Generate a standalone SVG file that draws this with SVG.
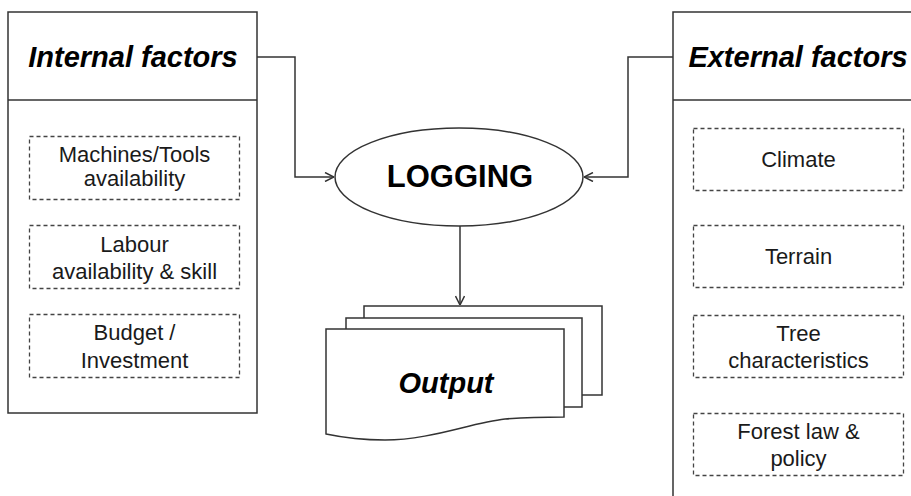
<svg xmlns="http://www.w3.org/2000/svg" width="911" height="496" viewBox="0 0 911 496">
  <style>
    .box { fill: #ffffff; stroke: #333333; stroke-width: 1.5; }
    .div { stroke: #333333; stroke-width: 1.5; fill: none; }
    .dash { fill: #ffffff; stroke: #444444; stroke-width: 1.3; stroke-dasharray: 4 3; }
    .head { font-family: "Liberation Sans", Arial, sans-serif; font-weight: bold; font-style: italic; font-size: 29px; fill: #000000; text-anchor: middle; }
    .item { font-family: "Liberation Sans", Arial, sans-serif; font-size: 22px; fill: #1a1a1a; text-anchor: middle; }
    .big { font-family: "Liberation Sans", Arial, sans-serif; font-weight: bold; font-size: 31px; fill: #000000; text-anchor: middle; }
    .conn { fill: none; stroke: #333333; stroke-width: 1.5; }
  </style>
  <defs>
    <marker id="arr" viewBox="0 0 10 10" refX="10" refY="5" markerWidth="10" markerHeight="10" markerUnits="userSpaceOnUse" orient="auto">
      <path d="M1,0.5 L10,5 L1,9.5" fill="none" stroke="#333333" stroke-width="1.5"/>
    </marker>
  </defs>
  <rect width="911" height="496" fill="#ffffff"/>

  <g id="internal">
    <rect class="box" x="8" y="12" width="249" height="401"/>
    <line class="div" x1="8" y1="100" x2="257" y2="100"/>
    <text class="head" x="133" y="67">Internal factors</text>
  </g>
  <g id="machines">
    <rect class="dash" x="29.5" y="136.5" width="210" height="63"/>
    <text class="item" x="134.5" y="162">Machines/Tools</text>
    <text class="item" x="134.5" y="186">availability</text>
  </g>
  <g id="labour">
    <rect class="dash" x="29.5" y="225.5" width="210" height="63"/>
    <text class="item" x="134.5" y="252">Labour</text>
    <text class="item" x="134.5" y="279">availability &amp; skill</text>
  </g>
  <g id="budget">
    <rect class="dash" x="29.5" y="314.5" width="210" height="63"/>
    <text class="item" x="134.5" y="340">Budget /</text>
    <text class="item" x="134.5" y="368">Investment</text>
  </g>

  <g id="external">
    <rect class="box" x="673" y="12" width="260" height="500"/>
    <line class="div" x1="673" y1="100" x2="933" y2="100"/>
    <text class="head" x="798" y="67">External factors</text>
  </g>
  <g id="climate">
    <rect class="dash" x="693.5" y="128.5" width="210" height="62"/>
    <text class="item" x="798.5" y="167">Climate</text>
  </g>
  <g id="terrain">
    <rect class="dash" x="693.5" y="225.5" width="210" height="62"/>
    <text class="item" x="798.5" y="264">Terrain</text>
  </g>
  <g id="tree">
    <rect class="dash" x="693.5" y="315.5" width="210" height="62"/>
    <text class="item" x="798.5" y="341">Tree</text>
    <text class="item" x="798.5" y="368">characteristics</text>
  </g>
  <g id="forest">
    <rect class="dash" x="693.5" y="413.5" width="210" height="62"/>
    <text class="item" x="798.5" y="439">Forest law &amp;</text>
    <text class="item" x="798.5" y="466">policy</text>
  </g>

  <g id="logging">
    <ellipse class="box" cx="459" cy="177" rx="124" ry="49"/>
    <text class="big" x="460" y="187">LOGGING</text>
  </g>

  <g id="output">
    <rect class="box" x="364" y="306" width="238" height="89"/>
    <rect class="box" x="346" y="318" width="236" height="89"/>
    <path class="box" d="M326,329 H564 V417 C550,417 530,417 505,419 C470,423 430,440 385,440 C365,440 345,438 326,434 Z"/>
    <text class="head" x="446" y="393">Output</text>
  </g>

  <g id="connectors">
    <path class="conn" d="M257,57 H295 V177 H334" marker-end="url(#arr)"/>
    <path class="conn" d="M673,57 H628 V177 H584" marker-end="url(#arr)"/>
    <path class="conn" d="M460,226 V305" marker-end="url(#arr)"/>
  </g>
</svg>
